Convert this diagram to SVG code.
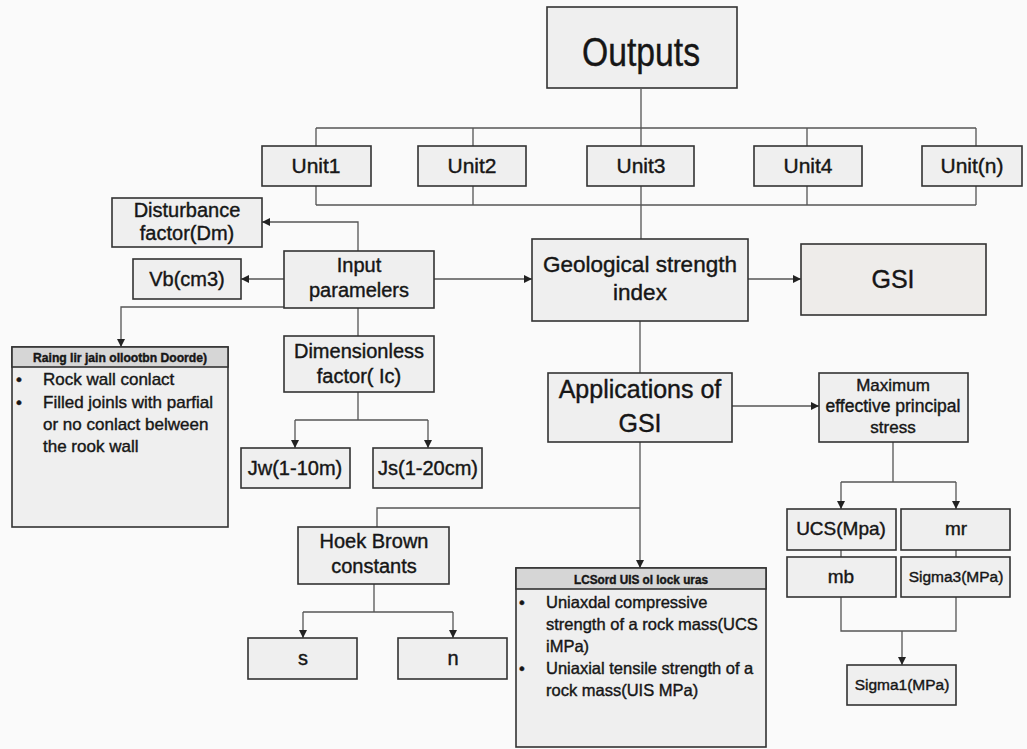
<svg xmlns="http://www.w3.org/2000/svg" width="1027" height="749" viewBox="0 0 1027 749">
<defs>
<marker id="ah" markerUnits="userSpaceOnUse" markerWidth="10" markerHeight="10" refX="8" refY="4" orient="auto"><path d="M0,0 L8,4 L0,8 z" fill="#222"/></marker>
<style>
.box{fill:#efefef;stroke:#333;stroke-width:1.6}
.hdr{fill:#d6d6d6;stroke:#333;stroke-width:1.6}
.c{fill:none;stroke:#555;stroke-width:1.3}
.a{fill:none;stroke:#555;stroke-width:1.3;marker-end:url(#ah)}
text{font-family:"Liberation Sans",Arial,sans-serif;fill:#161616;stroke:#161616;stroke-width:0.4}
.t{text-anchor:middle}
</style>
</defs>
<rect width="1027" height="749" fill="#fafafa"/>
<g id="connectors">
<path class="c" d="M641,89 V128 M316,128 H976 M316,205 H976 M316,128 V146 M473,128 V146 M641,128 V146 M807,128 V146 M976,128 V146 M316,186 V205 M473,186 V205 M641,186 V205 M807,186 V205 M976,186 V205 M641,205 V239"/>
<path class="a" d="M748,279 H801"/>
<path class="a" d="M434,279 H532"/>
<path class="a" d="M284,279 H241"/>
<path class="a" d="M358,251 V222 H262"/>
<path class="a" d="M284,307 H121 V347"/>
<path class="c" d="M358,308 V336 M358,392 V420 M295,420 H428"/>
<path class="a" d="M295,420 V448"/>
<path class="a" d="M428,420 V448"/>
<path class="c" d="M640,321 V373"/>
<path class="a" d="M732,406 H819"/>
<path class="a" d="M640,442 V568"/>
<path class="c" d="M640,508 H377 V527 M374,584 V612 M303,612 H453"/>
<path class="a" d="M303,612 V638"/>
<path class="a" d="M453,612 V638"/>
<path class="c" d="M893,442 V482 M841,482 H956"/>
<path class="a" d="M841,482 V509"/>
<path class="a" d="M956,482 V509"/>
<path class="c" d="M841,550 V557 M956,550 V557 M841,597 V631 H956 V597"/>
<path class="a" d="M902,631 V665"/>
</g>
<g id="outputs"><rect class="box" x="547" y="7" width="190" height="81"/><text class="t" x="641" y="66" font-size="40" textLength="118" lengthAdjust="spacingAndGlyphs">Outputs</text></g>
<g id="unit1"><rect class="box" x="262" y="146" width="109" height="40"/><text class="t" x="316" y="173" font-size="21">Unit1</text></g>
<g id="unit2"><rect class="box" x="418" y="146" width="108" height="40"/><text class="t" x="472" y="173" font-size="21">Unit2</text></g>
<g id="unit3"><rect class="box" x="587" y="146" width="107" height="40"/><text class="t" x="641" y="173" font-size="21">Unit3</text></g>
<g id="unit4"><rect class="box" x="754" y="146" width="108" height="40"/><text class="t" x="808" y="173" font-size="21">Unit4</text></g>
<g id="unitn"><rect class="box" x="922" y="146" width="100" height="40"/><text class="t" x="972" y="173" font-size="21">Unit(n)</text></g>
<g id="gsi-index"><rect class="box" x="532" y="239" width="216" height="82"/><text class="t" x="640" y="272" font-size="22.5">Geological strength</text><text class="t" x="640" y="300" font-size="22.5">index</text></g>
<g id="gsi"><rect class="box" x="801" y="244" width="185" height="71" style="fill:#eeecea"/><text class="t" x="893" y="288" font-size="25">GSI</text></g>
<g id="input"><rect class="box" x="284" y="251" width="150" height="57"/><text class="t" x="359" y="272" font-size="20">Input</text><text class="t" x="359" y="297" font-size="20">paramelers</text></g>
<g id="disturbance"><rect class="box" x="112" y="198" width="150" height="49"/><text class="t" x="187" y="217" font-size="20">Disturbance</text><text class="t" x="187" y="240" font-size="20">factor(Dm)</text></g>
<g id="vb"><rect class="box" x="133" y="259" width="108" height="40"/><text class="t" x="187" y="286" font-size="20">Vb(cm3)</text></g>
<g id="rating"><rect class="box" x="12" y="347" width="216" height="180"/><rect class="hdr" x="12" y="347" width="216" height="20"/><text class="t" x="120" y="362" font-size="12" font-weight="bold" textLength="174" lengthAdjust="spacingAndGlyphs">Raing lir jain ollootbn Doorde)</text>
<g font-size="17"><text x="16" y="385">•</text><text x="43" y="385">Rock wall conlact</text><text x="16" y="408">•</text><text x="43" y="408">Filled joinls with parfial</text><text x="43" y="430">or no conlact belween</text><text x="43" y="452">the rook wall</text></g></g>
<g id="dimensionless"><rect class="box" x="284" y="336" width="150" height="56"/><text class="t" x="359" y="358" font-size="20">Dimensionless</text><text class="t" x="359" y="383" font-size="20">factor( Ic)</text></g>
<g id="jw"><rect class="box" x="241" y="448" width="109" height="40"/><text class="t" x="295" y="475" font-size="20">Jw(1-10m)</text></g>
<g id="js"><rect class="box" x="373" y="448" width="109" height="40"/><text class="t" x="428" y="475" font-size="20">Js(1-20cm)</text></g>
<g id="applications"><rect class="box" x="548" y="373" width="184" height="69"/><text class="t" x="640" y="398" font-size="25">Applications of</text><text class="t" x="640" y="432" font-size="25">GSI</text></g>
<g id="maximum"><rect class="box" x="819" y="373" width="149" height="69"/><text class="t" x="893" y="391" font-size="17">Maximum</text><text class="t" x="893" y="412" font-size="17.5">effective principal</text><text class="t" x="893" y="433" font-size="17">stress</text></g>
<g id="hoek"><rect class="box" x="298" y="527" width="151" height="57"/><text class="t" x="374" y="548" font-size="20">Hoek Brown</text><text class="t" x="374" y="573" font-size="20">constants</text></g>
<g id="s"><rect class="box" x="248" y="638" width="109" height="41"/><text class="t" x="303" y="665" font-size="20">s</text></g>
<g id="n"><rect class="box" x="398" y="638" width="109" height="41"/><text class="t" x="453" y="665" font-size="20">n</text></g>
<g id="ucs-uts"><rect class="box" x="516" y="568" width="250" height="179"/><rect class="hdr" x="516" y="568" width="250" height="21"/><text class="t" x="641" y="584" font-size="12" font-weight="bold" textLength="134" lengthAdjust="spacingAndGlyphs">LCSord UIS ol lock uras</text>
<g font-size="16.5"><text x="519" y="608">•</text><text x="546" y="608">Uniaxdal compressive</text><text x="546" y="630">strength of a rock mass(UCS</text><text x="546" y="652">iMPa)</text><text x="519" y="674">•</text><text x="546" y="674">Uniaxial tensile strength of a</text><text x="546" y="696">rock mass(UIS MPa)</text></g></g>
<g id="ucs"><rect class="box" x="787" y="509" width="109" height="41"/><text class="t" x="841" y="535" font-size="19">UCS(Mpa)</text></g>
<g id="mr"><rect class="box" x="901" y="509" width="109" height="41"/><text class="t" x="956" y="535" font-size="19">mr</text></g>
<g id="mb"><rect class="box" x="787" y="557" width="109" height="40"/><text class="t" x="841" y="583" font-size="19">mb</text></g>
<g id="sigma3"><rect class="box" x="901" y="557" width="109" height="40"/><text class="t" x="956" y="582" font-size="15.5">Sigma3(MPa)</text></g>
<g id="sigma1"><rect class="box" x="847" y="665" width="109" height="40"/><text class="t" x="902" y="690" font-size="15.5">Sigma1(MPa)</text></g>
</svg>
